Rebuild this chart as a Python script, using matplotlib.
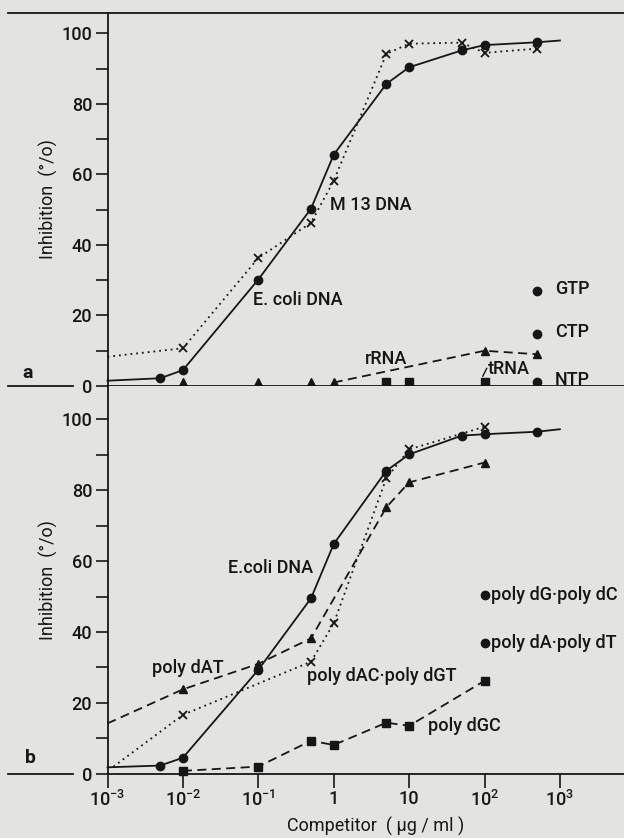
import numpy as np
import matplotlib
matplotlib.use("Agg")
import matplotlib.pyplot as plt
from matplotlib.ticker import FixedLocator, NullFormatter

plt.rcParams['font.family'] = ['Roboto', 'DejaVu Sans']
plt.rcParams['font.weight'] = 'medium'
plt.rcParams['mathtext.fontset'] = 'custom'
plt.rcParams['mathtext.rm'] = 'Roboto:medium'

# ---- panel a data ----
a_ecoli_x = [1e-3, 5e-3, 1e-2, 0.1, 0.5, 1, 5, 10, 50, 100, 500, 1000]
a_ecoli_y = [1.5, 2.2, 4.5, 30.2, 50.3, 65.6, 85.7, 90.4, 95.2, 96.7, 97.5, 98.0]
a_m13_x = [1e-3, 1e-2, 0.1, 0.5, 1, 5, 10, 50, 100, 500]
a_m13_y = [8.3, 10.7, 36.3, 46.3, 58.2, 94.2, 97.1, 97.4, 94.5, 95.7]
a_rrna_x = [1e-2, 0.1, 0.5, 1, 100, 500]
a_rrna_y = [1.0, 1.0, 1.0, 1.0, 10.0, 9.0]
a_trna_x = [5, 10, 100]
a_trna_y = [1.0, 1.0, 1.0]
a_ntp_names = ['GTP', 'CTP', 'NTP']
a_ntp_x = [500, 500, 500]
a_ntp_y = [27.0, 14.7, 1.2]

# ---- panel b data ----
b_ecoli_x = [1e-3, 5e-3, 1e-2, 0.1, 0.5, 1, 5, 10, 50, 100, 500, 1000]
b_ecoli_y = [1.8, 2.3, 4.5, 29.3, 49.5, 64.8, 85.5, 90.1, 95.4, 95.8, 96.5, 97.2]
b_dat_x = [1e-3, 1e-2, 0.1, 0.5, 5, 10, 100]
b_dat_y = [14.2, 23.8, 31.0, 38.2, 75.2, 82.2, 87.8]
b_dac_x = [1.2e-3, 1e-2, 0.5, 1, 5, 10, 100]
b_dac_y = [2.0, 16.6, 31.6, 42.4, 83.4, 91.5, 97.9]
b_dgc_x = [1e-2, 0.1, 0.5, 1, 5, 10, 100]
b_dgc_y = [0.8, 2.0, 9.3, 8.1, 14.4, 13.5, 26.2]
b_homo_names = ['poly dG\u00b7poly dC', 'poly dA\u00b7poly dT']
b_homo_x = [100, 100]
b_homo_y = [50.4, 37.0]

xticks = [1e-3, 1e-2, 1e-1, 1, 10, 1e2, 1e3]
xticklabels = [r'$\mathregular{10^{-3}}$', r'$\mathregular{10^{-2}}$', r'$\mathregular{10^{-1}}$',
               '1', '10', r'$\mathregular{10^{2}}$', r'$\mathregular{10^{3}}$']

bg = '#e3e3df'
ink = '#161616'
FS = 13

fig = plt.figure(figsize=(6.24, 8.38), dpi=100, facecolor=bg)
left = 107.5 / 624
ax_a = fig.add_axes([left, 1 - 386 / 838, 1 - left, (386 - 13) / 838])
ax_b = fig.add_axes([left, 1 - 773.7 / 838, 1 - left, (773.7 - 386) / 838])

xmax = 10 ** (-3 + (624 - 107.5) / 75.4)
for ax, ytop in ((ax_a, 105.8), (ax_b, 109.4)):
    ax.set_facecolor(bg)
    ax.set_xscale('log')
    ax.set_xlim(1e-3, xmax)
    ax.set_ylim(0, ytop)
    ax.yaxis.set_major_locator(FixedLocator([0, 20, 40, 60, 80, 100]))
    ax.yaxis.set_minor_locator(FixedLocator([10, 30, 50, 70, 90]))
    ax.yaxis.set_minor_formatter(NullFormatter())
    ax.tick_params(axis='y', which='both', direction='out', length=9, width=1.2,
                   colors=ink, labelsize=FS, pad=2)
    ax.spines['right'].set_visible(False)
    for s in ('left', 'bottom', 'top'):
        ax.spines[s].set_linewidth(1.3)
        ax.spines[s].set_color(ink)
    ax.set_ylabel('Inhibition  (\u00b0/o)', fontsize=FS, color=ink)
    ax.yaxis.set_label_coords(-0.095, 0.5)
    # zero line continues to the left edge
    ax.plot([-0.193, -0.066], [0, 0], transform=ax.transAxes, color=ink, lw=1.3, clip_on=False)

ax_a.plot([-0.193, 0], [1, 1], transform=ax_a.transAxes, color=ink, lw=1.3, clip_on=False)
ax_a.tick_params(axis='x', which='both', bottom=False, labelbottom=False)
ax_b.spines['top'].set_visible(False)
ax_b.xaxis.set_major_locator(FixedLocator(xticks))
ax_b.set_xticklabels(xticklabels)
ax_b.xaxis.set_minor_locator(FixedLocator([]))
ax_b.tick_params(axis='x', direction='out', length=10, width=1.2, colors=ink, labelsize=FS, pad=2)
ax_b.set_xlabel('Competitor  ( \u00b5g / ml )', fontsize=FS, color=ink)
ax_b.xaxis.set_label_coords(0.52, -0.11)

line_kw = dict(color=ink, clip_on=False)
ms = 6

# panel a
ax_a.plot(a_ecoli_x, a_ecoli_y, '-', lw=1.3, marker='o', ms=ms, markevery=list(range(1, 11)), **line_kw)
ax_a.plot(a_m13_x, a_m13_y, ls=(0, (1, 2.2)), lw=1.3, marker='x', ms=6, mew=1.3,
          markevery=list(range(1, 10)), **line_kw)
ax_a.plot(a_rrna_x[3:], a_rrna_y[3:], ls=(0, (5, 3)), lw=1.3, **line_kw)
ax_a.plot(a_rrna_x, a_rrna_y, ls='none', marker='^', ms=ms, **line_kw)
ax_a.plot(a_trna_x, a_trna_y, ls='none', marker='s', ms=5.5, **line_kw)
ax_a.plot(a_ntp_x, a_ntp_y, ls='none', marker='o', ms=ms, **line_kw)
for name, y in zip(a_ntp_names, a_ntp_y):
    ax_a.text(860, y + 0.5, name, fontsize=FS, color=ink, va='center', ha='left')
ax_a.plot([95, 107], [2.8, 5.0], color=ink, lw=1.0)
ax_a.text(110, 4.8, 'tRNA', fontsize=FS, color=ink, va='center', ha='left')
ax_a.text(2.6, 7.6, 'rRNA', fontsize=FS, color=ink, va='center', ha='left')
ax_a.text(0.9, 51.3, 'M 13 DNA', fontsize=FS, color=ink, va='center', ha='left')
ax_a.text(0.085, 24.4, 'E. coli DNA', fontsize=FS, color=ink, va='center', ha='left')
ax_a.text(-0.155, 0.035, 'a', transform=ax_a.transAxes, fontsize=FS + 1, fontweight='bold',
          color=ink, va='center', ha='center')

# panel b
ax_b.plot(b_ecoli_x, b_ecoli_y, '-', lw=1.3, marker='o', ms=ms, markevery=list(range(1, 11)), **line_kw)
ax_b.plot(b_dat_x, b_dat_y, ls=(0, (5, 3)), lw=1.3, marker='^', ms=ms,
          markevery=list(range(1, 7)), **line_kw)
ax_b.plot(b_dac_x, b_dac_y, ls=(0, (1, 2.2)), lw=1.3, marker='x', ms=6, mew=1.3,
          markevery=list(range(1, 7)), **line_kw)
ax_b.plot(b_dgc_x, b_dgc_y, ls=(0, (5, 3)), lw=1.3, marker='s', ms=5.5, **line_kw)
ax_b.plot(b_homo_x, b_homo_y, ls='none', marker='o', ms=ms, **line_kw)
for name, y in zip(b_homo_names, b_homo_y):
    ax_b.text(122, y, name, fontsize=FS, color=ink, va='center', ha='left')
ax_b.text(0.04, 58, 'E.coli DNA', fontsize=FS, color=ink, va='center', ha='left')
ax_b.text(3.9e-3, 29.7, 'poly dAT', fontsize=FS, color=ink, va='center', ha='left')
ax_b.text(0.44, 27.6, 'poly dAC\u00b7poly dGT', fontsize=FS, color=ink, va='center', ha='left')
ax_b.text(17.8, 13.5, 'poly dGC', fontsize=FS, color=ink, va='center', ha='left')
ax_b.text(-0.15, 0.04, 'b', transform=ax_b.transAxes, fontsize=FS + 1, fontweight='bold',
          color=ink, va='center', ha='center')

fig.savefig('out.png', dpi=100, facecolor=bg)
